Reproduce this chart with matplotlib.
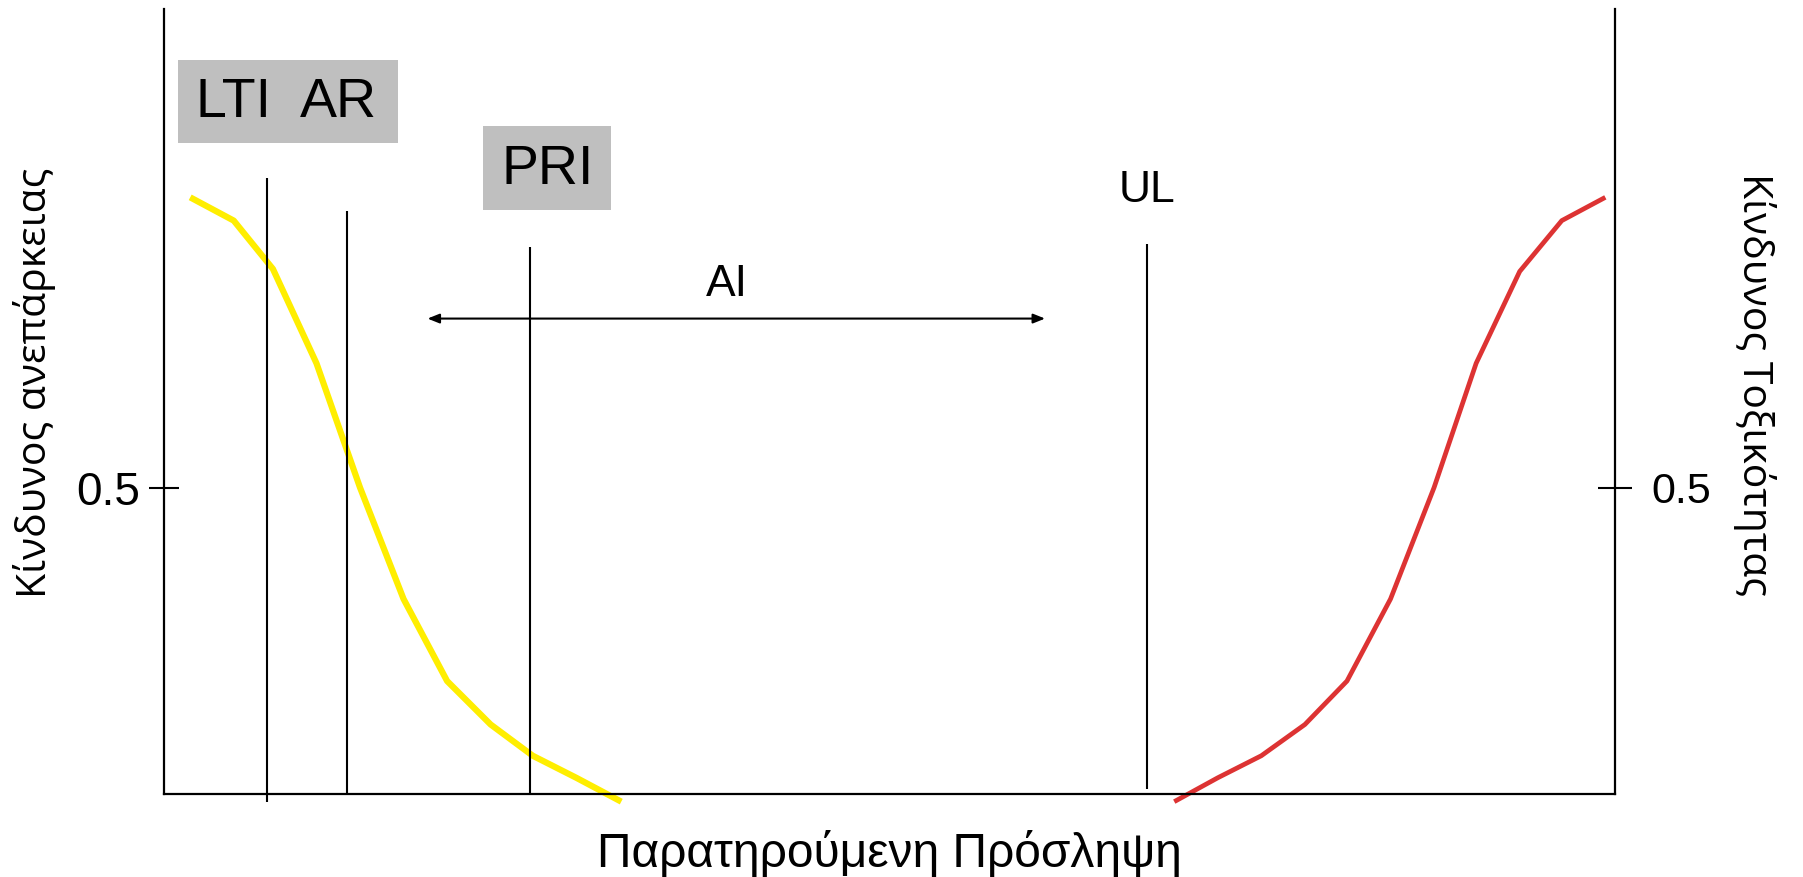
import numpy as np
import matplotlib.pyplot as plt
from matplotlib.patches import Rectangle

# curves (x in % of axis width, y in risk units: 0.5 tick)
yellow_x = [1.8, 4.8, 7.5, 10.5, 13.5, 16.5, 19.5, 22.5, 25.4, 28.4, 31.5]
yellow_y = [0.974, 0.936, 0.857, 0.703, 0.5, 0.318, 0.184, 0.113, 0.062, 0.026, -0.013]
red_x = [69.6, 72.6, 75.6, 78.6, 81.5, 84.5, 87.5, 90.4, 93.4, 96.3, 99.3]
red_y = [-0.013, 0.026, 0.062, 0.113, 0.184, 0.318, 0.5, 0.703, 0.853, 0.936, 0.974]

# reference lines
ref_names = ['LTI', 'AR', 'PRI', 'UL']
ref_x = [7.1, 12.6, 25.2, 67.7]
ref_top = [1.006, 0.951, 0.893, 0.898]
ref_bottom = [-0.013, 0.0, 0.0, 0.008]

narrow = ['Liberation Sans Narrow', 'Liberation Sans', 'DejaVu Sans']
sans = ['Liberation Sans', 'DejaVu Sans']
greek = ['Open Sans', 'DejaVu Sans']

fig = plt.figure(figsize=(18.03, 8.77), dpi=100)
ax = fig.add_axes([0.091, 0.095, 0.805, 0.895])
ax.set_xlim(0, 100)
ax.set_ylim(0, 1.282)

ax.plot(yellow_x, yellow_y, color='#ffee00', lw=4.5, clip_on=False, solid_capstyle='butt')
ax.plot(red_x, red_y, color='#dd3333', lw=3.4, clip_on=False, solid_capstyle='butt')

ax.vlines(ref_x, ref_bottom, ref_top, color='black', lw=1.5, clip_on=False)

# gray label boxes
ax.add_patch(Rectangle((0.95, 1.062), 15.2, 0.137, color='#bfbfbf', lw=0, clip_on=False))
ax.add_patch(Rectangle((22.0, 0.953), 8.8, 0.137, color='#bfbfbf', lw=0, clip_on=False))
ax.text(4.75, 1.128, 'LTI', fontsize=40, family=narrow, ha='center', va='center')
ax.text(12.0, 1.128, 'AR', fontsize=40, family=narrow, ha='center', va='center')
ax.text(26.45, 1.019, 'PRI', fontsize=40, family=narrow, ha='center', va='center')
ax.text(67.7, 0.985, 'UL', fontsize=32, family=sans, ha='center', va='center')

# AI arrow
ax.annotate('', xy=(60.7, 0.776), xytext=(18.15, 0.776),
            arrowprops=dict(arrowstyle='<|-|>,head_length=0.7,head_width=0.28',
                            color='black', lw=1.5, shrinkA=0, shrinkB=0))
ax.text(38.75, 0.831, 'AI', fontsize=32, family=sans, ha='center', va='center')

ax.spines['top'].set_visible(False)
for s in ['left', 'right', 'bottom']:
    ax.spines[s].set_linewidth(1.6)

ax.set_xticks([])
ax.set_yticks([0.5])
ax.set_yticklabels(['0.5'])
ax.tick_params(axis='y', direction='inout', length=22, width=1.5, pad=6,
               left=True, right=False, labelsize=33)
for lab in ax.get_yticklabels():
    lab.set_family(narrow)

# right-hand risk axis
ax2 = ax.twinx()
ax2.set_ylim(ax.get_ylim())
ax2.set_yticks([0.5])
ax2.set_yticklabels(['0.5'])
ax2.tick_params(axis='y', direction='inout', length=24, width=1.5, pad=14, labelsize=31)
for lab in ax2.get_yticklabels():
    lab.set_family(sans)
for s in ['top', 'left', 'bottom', 'right']:
    ax2.spines[s].set_visible(False)

ax.set_xlabel('Παρατηρούμενη Πρόσληψη', fontsize=34.5, family=sans, labelpad=26)
fig.text(0.019, 0.563, 'Κίνδυνος ανεπάρκειας', rotation=90, fontsize=29.5, family=greek,
         ha='center', va='center')
fig.text(0.973, 0.562, 'Κίνδυνος Τοξικότητας', rotation=-90, fontsize=29.5, family=greek,
         ha='center', va='center')

fig.savefig('out.png', dpi=100)
